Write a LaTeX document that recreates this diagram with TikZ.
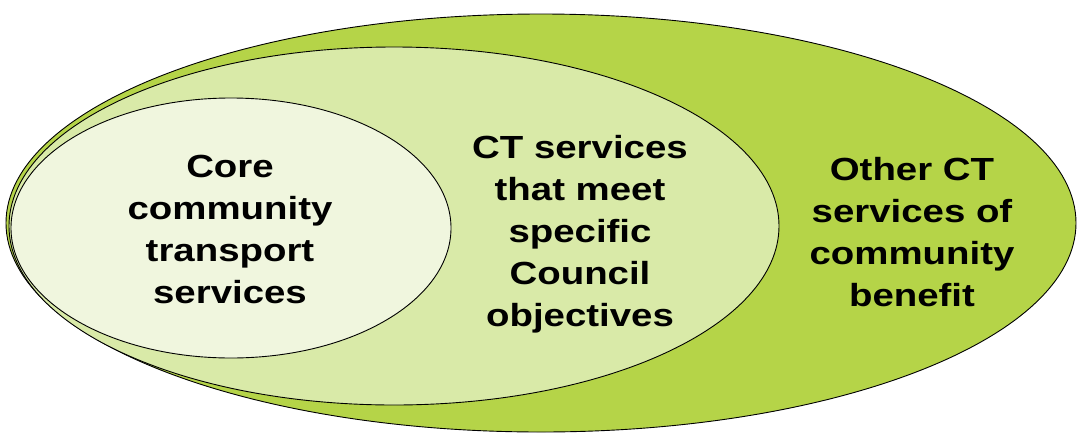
\documentclass[tikz,border=0pt]{standalone}
\usepackage{fontspec}
\setmainfont[FakeStretch=1.2]{Liberation Sans}
\usetikzlibrary{shapes.geometric}
\definecolor{outerg}{RGB}{181,212,72}
\definecolor{midg}{RGB}{217,234,168}
\definecolor{innerg}{RGB}{240,246,222}
\tikzset{
  ring/.style={draw=black, line width=0.9pt},
  lbl/.style={align=center, font=\fontsize{32}{42}\selectfont\bfseries, text=black, inner sep=0pt}
}
\begin{document}
\begin{tikzpicture}[x=1pt,y=-1pt]
\useasboundingbox (0,0) rectangle (1079,437);
\fill[white] (0,0) rectangle (1079,437);
\path[ring, fill=outerg] (541,223) ellipse [x radius=535, y radius=209];
\path[ring, fill=midg] (394,226) ellipse [x radius=385, y radius=179];
\path[ring, fill=innerg] (231,228) ellipse [x radius=220, y radius=130];
\node[lbl] (core) at (230,229) {Core\\community\\transport\\services};
\node[lbl] (council) at (580,234) {CT services\\that meet\\specific\\Council\\objectives};
\node[lbl] (other) at (912,232) {Other CT\\services of\\community\\benefit};
\end{tikzpicture}
\end{document}
